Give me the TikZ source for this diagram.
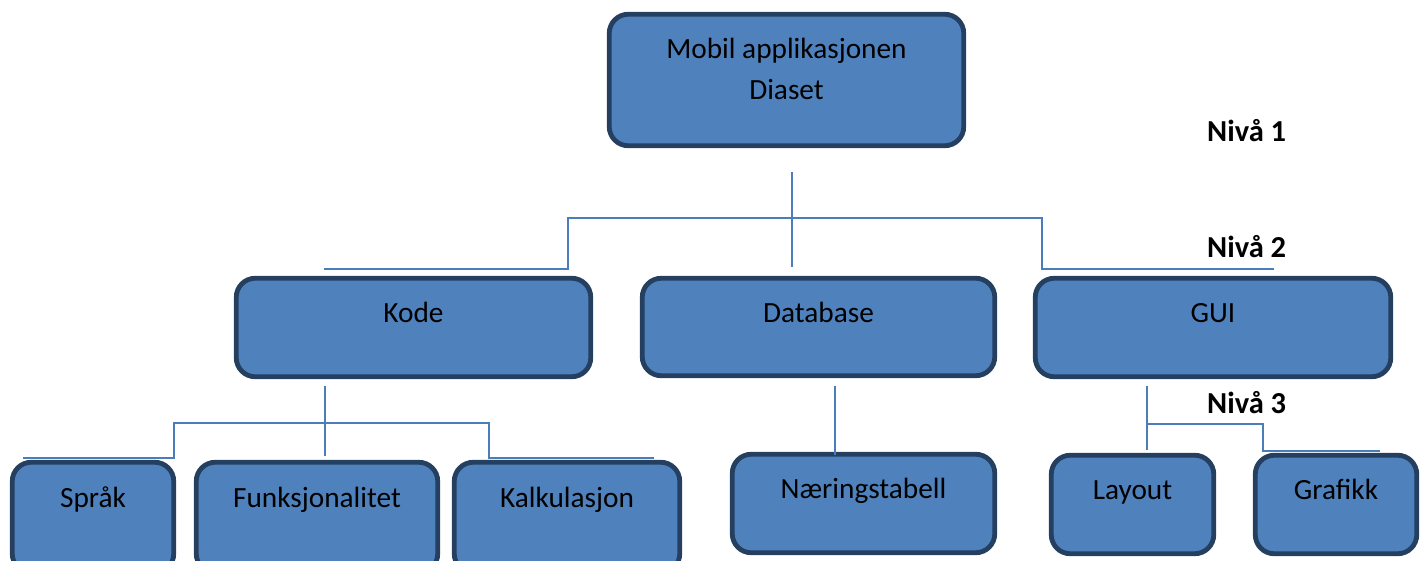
\documentclass[tikz,border=0pt]{standalone}
\usepackage{fontspec}
\setmainfont{Carlito}
\definecolor{boxfill}{HTML}{4F81BD}
\definecolor{boxline}{HTML}{243F60}
\definecolor{connline}{HTML}{4A7EBB}
\begin{document}
\begin{tikzpicture}[x=1pt,y=-1pt,
  box/.style={draw=boxline, line width=4.8pt, fill=boxfill, rounded corners=19pt, inner sep=0pt, rectangle},
  conn/.style={draw=connline, line width=1.6pt},
  lbl/.style={font=\fontsize{29.3}{41}\selectfont, anchor=base, inner sep=0pt, text=black},
  niv/.style={font=\fontsize{30.5}{35}\selectfont\bfseries, anchor=base west, inner sep=0pt, text=black}]
\useasboundingbox (0,0) rectangle (1421,561);
\clip (0,0) rectangle (1421,561);
% boxes
\node[box, minimum width=354.5pt, minimum height=131.5pt] (top) at (786.5,80) {};
\node[box, minimum width=354.5pt, minimum height=98.5pt] (kode) at (413.5,327.5) {};
\node[box, minimum width=352.5pt, minimum height=97.5pt] (db) at (818.5,327) {};
\node[box, minimum width=355.5pt, minimum height=98.5pt] (gui) at (1213,327.5) {};
\node[box, minimum width=161.5pt, minimum height=110.5pt] (sprak) at (93,517.5) {};
\node[box, minimum width=241.5pt, minimum height=110.5pt] (funk) at (317,517.5) {};
\node[box, minimum width=225.5pt, minimum height=110.5pt] (kalk) at (567,517.5) {};
\node[box, minimum width=262.5pt, minimum height=98.5pt] (naer) at (863.5,503.5) {};
\node[box, minimum width=162.5pt, minimum height=98.5pt] (layout) at (1132.5,504.5) {};
\node[box, minimum width=161.5pt, minimum height=98.5pt] (grafikk) at (1336,504.5) {};
% labels
\node[lbl] (topA) at (786.5,59) {Mobil applikasjonen};
\node[lbl] (topB) at (786.5,100) {Diaset};
\node[lbl] (kodeT) at (413.5,322) {Kode};
\node[lbl] (dbT) at (818.5,322) {Database};
\node[lbl] (guiT) at (1213,322) {GUI};
\node[lbl] (sprakT) at (93,507) {Språk};
\node[lbl] (funkT) at (317,507) {Funksjonalitet};
\node[lbl] (kalkT) at (567,507) {Kalkulasjon};
\node[lbl] (naerT) at (863.5,498) {Næringstabell};
\node[lbl] (layoutT) at (1132.5,499) {Layout};
\node[lbl] (grafikkT) at (1336,499) {Grafikk};
\node[niv] (n1) at (1207,142) {Nivå 1};
\node[niv] (n2) at (1207,258) {Nivå 2};
\node[niv] (n3) at (1207,413) {Nivå 3};
% connector points
\coordinate (t1) at (792,172);
\coordinate (t2) at (792,267);
\coordinate (tl) at (568,218);
\coordinate (tr) at (1042,218);
\coordinate (tle) at (324,269);
\coordinate (tre) at (1274,269);
\coordinate (k1) at (325,386);
\coordinate (k2) at (325,456);
\coordinate (kl) at (174,423);
\coordinate (kr) at (489,423);
\coordinate (kle) at (23,458);
\coordinate (kre) at (654,458);
\coordinate (d1) at (835,386);
\coordinate (d2) at (835,455);
\coordinate (g1) at (1147,386);
\coordinate (g2) at (1147,450);
\coordinate (gm) at (1147,424);
\coordinate (gr) at (1263,424);
\coordinate (gre) at (1380,451);
% connectors
\draw[conn] (t1) -- (t2);
\draw[conn] (tle) -| (tl) -- (tr) |- (tre);
\draw[conn] (k1) -- (k2);
\draw[conn] (kle) -| (kl) -- (kr) |- (kre);
\draw[conn] (d1) -- (d2);
\draw[conn] (g1) -- (g2);
\draw[conn] (gm) -- (gr) |- (gre);
\end{tikzpicture}
\end{document}
